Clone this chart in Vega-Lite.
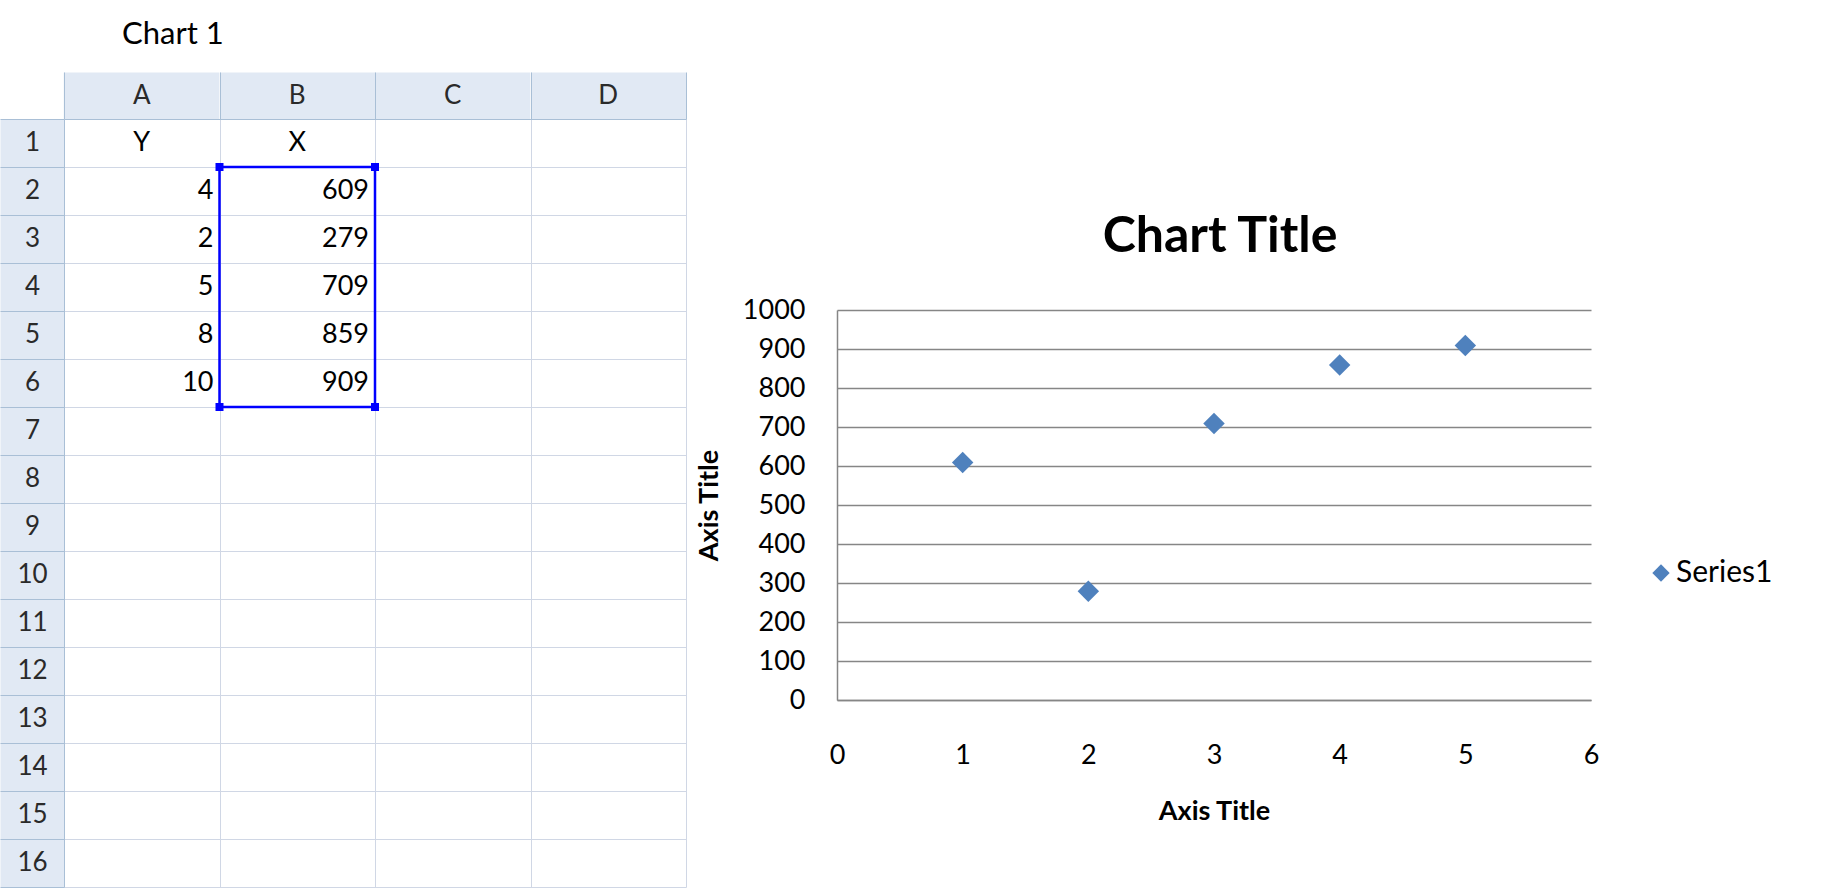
{
  "$schema": "https://vega.github.io/schema/vega-lite/v6.json",
  "background": "white",
  "padding": {"left": -24, "top": -6, "right": 0, "bottom": 0},
  "bounds": "flush",
  "spacing": 151,
  "title": {"text": "Chart 1", "anchor": "start", "dx": 146, "offset": -57, "font": "Lato", "fontSize": 31, "fontWeight": "normal", "color": "#000000"},
  "config": {"font": "Lato", "view": {"stroke": null}},
  "datasets": {
    "cells": [
      {"col": "A", "row": 1, "text": "Y", "kind": "head"},
      {"col": "B", "row": 1, "text": "X", "kind": "head"},
      {"col": "A", "row": 2, "text": "4", "kind": "num"},
      {"col": "B", "row": 2, "text": "609", "kind": "num"},
      {"col": "A", "row": 3, "text": "2", "kind": "num"},
      {"col": "B", "row": 3, "text": "279", "kind": "num"},
      {"col": "A", "row": 4, "text": "5", "kind": "num"},
      {"col": "B", "row": 4, "text": "709", "kind": "num"},
      {"col": "A", "row": 5, "text": "8", "kind": "num"},
      {"col": "B", "row": 5, "text": "859", "kind": "num"},
      {"col": "A", "row": 6, "text": "10", "kind": "num"},
      {"col": "B", "row": 6, "text": "909", "kind": "num"}
    ],
    "selection": [{"col": "B", "r0": 2, "r1": 6}],
    "series": [
      {"point": 1, "value": 609},
      {"point": 2, "value": 279},
      {"point": 3, "value": 709},
      {"point": 4, "value": 859},
      {"point": 5, "value": 909}
    ]
  },
  "hconcat": [
    {
      "width": 622,
      "height": 768,
      "data": {"name": "cells"},
      "resolve": {"axis": {"x": "independent", "y": "independent"}},
      "layer": [
        {
          "transform": [{"filter": "datum.kind === 'head'"}],
          "mark": {"type": "text", "align": "center", "baseline": "middle", "fontSize": 27, "font": "Lato", "color": "#000000"},
          "encoding": {
            "x": {"field": "col", "type": "nominal",
              "scale": {"type": "band", "domain": ["A", "B", "C", "D"], "paddingInner": 0, "paddingOuter": 0},
              "axis": {"orient": "top", "title": null, "tickSize": 47, "tickColor": "#e1e9f4", "tickWidth": 155.5,
                "labelPadding": -23.5, "labelBaseline": "middle", "labelAngle": 0, "labelFontSize": 26, "labelFont": "Lato", "labelColor": "#2a2a2a",
                "grid": false, "domain": false}},
            "y": {"field": "row", "type": "ordinal",
              "scale": {"type": "band", "domain": [1, 2, 3, 4, 5, 6, 7, 8, 9, 10, 11, 12, 13, 14, 15, 16], "paddingInner": 0, "paddingOuter": 0},
              "axis": {"orient": "left", "title": null, "tickSize": 64, "tickColor": "#e1e9f4", "tickWidth": 48,
                "labelPadding": -32, "labelAlign": "center", "labelBaseline": "middle", "labelFontSize": 26, "labelFont": "Lato", "labelColor": "#2a2a2a",
                "grid": false, "domain": false}},
            "text": {"field": "text"}
          }
        },
        {
          "transform": [{"filter": "datum.kind === 'num'"}],
          "mark": {"type": "text", "align": "right", "baseline": "middle", "dx": -6, "fontSize": 27, "font": "Lato", "color": "#000000"},
          "encoding": {
            "x": {"field": "col", "type": "nominal", "bandPosition": 1,
              "axis": {"orient": "top", "title": null, "labels": false, "tickBand": "extent", "tickSize": 47, "tickColor": "#a9bfd6", "tickWidth": 1,
                "grid": true, "gridColor": "#d0d7e5", "gridWidth": 1, "domainColor": "#a9bfd6", "domainWidth": 1}},
            "y": {"field": "row", "type": "ordinal",
              "axis": {"orient": "left", "title": null, "labels": false, "tickBand": "extent", "tickSize": 64, "tickColor": "#a9bfd6", "tickWidth": 1,
                "grid": true, "gridColor": "#d0d7e5", "gridWidth": 1, "domainColor": "#a9bfd6", "domainWidth": 1}},
            "text": {"field": "text"}
          }
        },
        {
          "data": {"name": "selection"},
          "mark": {"type": "rect", "fill": null, "stroke": "#0000ff", "strokeWidth": 2.5},
          "encoding": {
            "x": {"field": "col", "type": "nominal", "axis": null},
            "y": {"field": "r0", "type": "ordinal", "bandPosition": 0, "axis": null},
            "y2": {"field": "r1", "bandPosition": 1}
          }
        },
        {
          "data": {"name": "selection"},
          "mark": {"type": "square", "filled": true, "color": "#0000ff", "size": 64, "opacity": 1},
          "encoding": {
            "x": {"field": "col", "type": "nominal", "bandPosition": 0, "axis": null},
            "y": {"field": "r0", "type": "ordinal", "bandPosition": 0, "axis": null}
          }
        },
        {
          "data": {"name": "selection"},
          "mark": {"type": "square", "filled": true, "color": "#0000ff", "size": 64, "opacity": 1},
          "encoding": {
            "x": {"field": "col", "type": "nominal", "bandPosition": 1, "axis": null},
            "y": {"field": "r0", "type": "ordinal", "bandPosition": 0, "axis": null}
          }
        },
        {
          "data": {"name": "selection"},
          "mark": {"type": "square", "filled": true, "color": "#0000ff", "size": 64, "opacity": 1},
          "encoding": {
            "x": {"field": "col", "type": "nominal", "bandPosition": 0, "axis": null},
            "y": {"field": "r1", "type": "ordinal", "bandPosition": 1, "axis": null}
          }
        },
        {
          "data": {"name": "selection"},
          "mark": {"type": "square", "filled": true, "color": "#0000ff", "size": 64, "opacity": 1},
          "encoding": {
            "x": {"field": "col", "type": "nominal", "bandPosition": 1, "axis": null},
            "y": {"field": "r1", "type": "ordinal", "bandPosition": 1, "axis": null}
          }
        }
      ]
    },
    {
      "width": 754,
      "height": 581,
      "data": {"name": "series"},
      "title": {"text": "Chart Title", "frame": "group", "anchor": "middle", "offset": -143, "dx": 6, "fontSize": 50, "font": "Lato", "fontWeight": "bold", "color": "#000000"},
      "mark": {"type": "point", "filled": true, "shape": "diamond", "size": 460, "opacity": 1},
      "encoding": {
        "x": {"field": "point", "type": "quantitative",
          "scale": {"domain": [0, 6], "nice": false, "zero": false},
          "axis": {"values": [0, 1, 2, 3, 4, 5, 6], "title": "Axis Title", "grid": false, "ticks": false, "domain": true, "domainColor": "#868686", "domainWidth": 1.5,
            "labelPadding": 42, "labelFlush": false, "labelFontSize": 27, "labelFont": "Lato", "labelColor": "#000000",
            "titleFontSize": 27, "titleFont": "Lato", "titleFontWeight": "bold", "titleColor": "#000000", "titlePadding": 30}},
        "y": {"field": "value", "type": "quantitative",
          "scale": {"domain": [0, 1000], "nice": false, "range": [581, 191]},
          "axis": {"values": [0, 100, 200, 300, 400, 500, 600, 700, 800, 900, 1000], "format": "d", "title": "Axis Title", "grid": true, "gridColor": "#868686", "gridWidth": 1.5,
            "ticks": false, "domain": true, "domainColor": "#868686", "domainWidth": 1.5,
            "labelPadding": 32, "labelFlush": false, "labelFontSize": 27, "labelFont": "Lato", "labelColor": "#000000",
            "titleFontSize": 27, "titleFont": "Lato", "titleFontWeight": "bold", "titleColor": "#000000", "titlePadding": 19}},
        "color": {"datum": "Series1", "type": "nominal", "scale": {"range": ["#4f81bd"]},
          "legend": {"orient": "none", "legendX": 1582, "legendY": 439, "title": null, "symbolType": "diamond", "symbolSize": 300, "labelOffset": 0,
            "labelFontSize": 30, "labelFont": "Lato", "labelColor": "#000000"}}
      }
    }
  ]
}
